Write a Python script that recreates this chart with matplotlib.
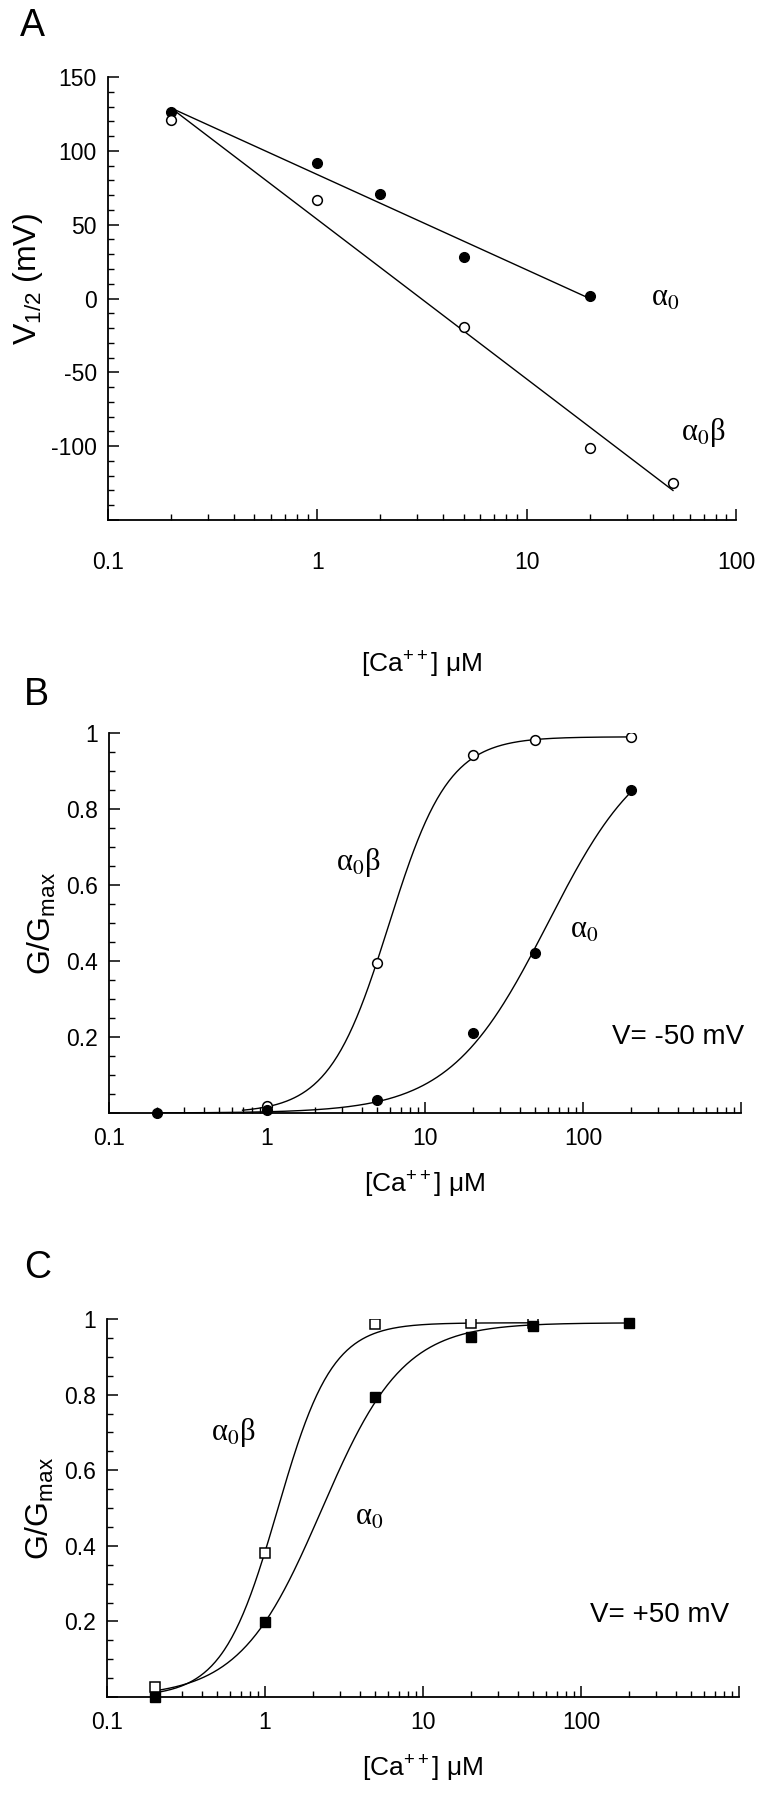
import numpy as np
import matplotlib
matplotlib.use("Agg")
import matplotlib.pyplot as plt
from matplotlib.ticker import LogLocator, MultipleLocator, NullFormatter

plt.rcParams['font.family'] = ['Liberation Sans', 'DejaVu Sans']
plt.rcParams['mathtext.fontset'] = 'custom'
plt.rcParams['mathtext.rm'] = 'Liberation Sans'
plt.rcParams['mathtext.it'] = 'Liberation Sans:italic'
plt.rcParams['mathtext.bf'] = 'Liberation Sans:bold'

# Panel A: V1/2 vs [Ca]
caA_alpha0 = [0.2, 1, 2, 5, 20]
vhalf_alpha0 = [126, 92, 71, 28, 2]
caA_alpha0beta = [0.2, 1, 5, 20, 50]
vhalf_alpha0beta = [121, 67, -19, -101, -125]
# fitted lines (end points)
fitA_alpha0_x = [0.2, 20]
fitA_alpha0_y = [129, 0]
fitA_alpha0beta_x = [0.2, 50]
fitA_alpha0beta_y = [129, -130]

# Panel B: G/Gmax at V = -50 mV
caB_alpha0beta = [1, 5, 20, 50, 200]
gB_alpha0beta = [0.018, 0.395, 0.942, 0.982, 0.989]
caB_alpha0 = [0.2, 1, 5, 20, 50, 200]
gB_alpha0 = [0.0, 0.008, 0.034, 0.21, 0.42, 0.85]
# Hill fits: (Gmax, K, n)
hillB_alpha0beta = (0.99, 5.9, 2.3)
hillB_alpha0 = (1.0, 60.0, 1.4)

# Panel C: G/Gmax at V = +50 mV
caC_alpha0beta = [0.2, 1, 5, 20, 50]
gC_alpha0beta = [0.026, 0.381, 0.987, 0.99, 0.99]
caC_alpha0 = [0.2, 1, 5, 20, 50, 200]
gC_alpha0 = [0.0, 0.198, 0.794, 0.952, 0.981, 0.989]
hillC_alpha0beta = (0.99, 1.2, 2.5)
hillC_alpha0 = (0.99, 2.28, 1.68)

xtick_labels = {0.1: "0.1", 1: "1", 10: "10", 100: "100"}


def hill(x, p):
    gmax, k, n = p
    return gmax / (1 + (k / x) ** n)


W, H = 759, 1800
fig = plt.figure(figsize=(W / 100, H / 100), dpi=100)


def make_axes(left, right, top, bottom):
    return fig.add_axes([left / W, 1 - bottom / H, (right - left) / W, (bottom - top) / H])


def style(ax, xmax, xpad, xlabelpad):
    ax.set_xscale('log')
    ax.set_xlim(0.1, xmax)
    ax.spines[['top', 'right']].set_visible(False)
    for s in ['left', 'bottom']:
        ax.spines[s].set_linewidth(1.3)
    ax.xaxis.set_major_locator(LogLocator(base=10, numticks=10))
    ax.xaxis.set_minor_locator(LogLocator(base=10, subs=np.arange(2, 10), numticks=20))
    ax.xaxis.set_minor_formatter(NullFormatter())
    ax.xaxis.set_major_formatter(plt.FuncFormatter(
        lambda v, p: next((t for k, t in xtick_labels.items() if abs(v / k - 1) < 1e-6), "")))
    ax.tick_params(which='major', direction='in', length=8, width=1.1, labelsize=16.5)
    ax.tick_params(which='minor', direction='in', length=4, width=1.0)
    ax.tick_params(axis='x', which='major', pad=xpad)
    ax.tick_params(axis='y', which='major', pad=8)
    ax.set_xlabel("[Ca$^{++}$] μM", fontsize=19, labelpad=xlabelpad)


def greek(ax, x, y, s):
    ax.text(x, y, s, fontsize=22, ha='center', va='center',
            family=['Liberation Serif', 'DejaVu Serif'], math_fontfamily='stix')


lw = 1.0
ms = 7

# ---- A ----
axA = make_axes(108, 736, 77, 520)
style(axA, 100, 22, 55)
axA.set_ylim(-150, 150)
axA.yaxis.set_major_locator(MultipleLocator(50))
axA.yaxis.set_minor_locator(MultipleLocator(10))
axA.yaxis.set_major_formatter(plt.FuncFormatter(lambda v, p: f"{v:g}" if v > -150 else ""))
axA.plot(fitA_alpha0_x, fitA_alpha0_y, color='black', lw=lw)
axA.plot(fitA_alpha0beta_x, fitA_alpha0beta_y, color='black', lw=lw)
axA.plot(caA_alpha0, vhalf_alpha0, 'o', color='black', ms=ms, zorder=3)
axA.plot(caA_alpha0beta, vhalf_alpha0beta, 'o', mfc='white', mec='black', mew=1.1, ms=ms, zorder=3)
axA.set_ylabel("V$_{1/2}$ (mV)", fontsize=23, labelpad=4)
axA.yaxis.label.set_y(0.545)
greek(axA, 46, 0, "α$_0$")
greek(axA, 70, -91, "α$_0$β")
fig.text(20 / W, 1 - 26 / H, "A", fontsize=27, ha='left', va='center')

# ---- B ----
axB = make_axes(109, 741, 733, 1113)
style(axB, 1000, 10, 14)
axB.set_ylim(0, 1)
axB.yaxis.set_major_locator(MultipleLocator(0.2))
axB.yaxis.set_minor_locator(MultipleLocator(0.05))
axB.yaxis.set_major_formatter(plt.FuncFormatter(lambda v, p: f"{v:g}" if v > 0 else ""))
xs = np.logspace(np.log10(0.7), np.log10(200), 300)
axB.plot(xs, hill(xs, hillB_alpha0beta), color='black', lw=lw)
xs = np.logspace(np.log10(0.2), np.log10(200), 300)
axB.plot(xs, hill(xs, hillB_alpha0), color='black', lw=lw)
axB.plot(caB_alpha0beta, gB_alpha0beta, 'o', mfc='white', mec='black', mew=1.1, ms=ms, zorder=3)
axB.plot(caB_alpha0, gB_alpha0, 'o', color='black', ms=ms, zorder=3, clip_on=False)
axB.set_ylabel("G/G$_{\\rm max}$", fontsize=23, labelpad=6)
greek(axB, 3.8, 0.66, "α$_0$β")
greek(axB, 102, 0.48, "α$_0$")
axB.text(400, 0.2, "V= -50 mV", fontsize=20, ha='center', va='center')
fig.text(24 / W, 1 - 695 / H, "B", fontsize=27, ha='left', va='center')

# ---- C ----
axC = make_axes(107, 739, 1319, 1697)
style(axC, 1000, 10, 14)
axC.set_ylim(0, 1)
axC.yaxis.set_major_locator(MultipleLocator(0.2))
axC.yaxis.set_minor_locator(MultipleLocator(0.05))
axC.yaxis.set_major_formatter(plt.FuncFormatter(lambda v, p: f"{v:g}" if v > 0 else ""))
xs = np.logspace(np.log10(0.2), np.log10(50), 300)
axC.plot(xs, hill(xs, hillC_alpha0beta), color='black', lw=lw)
xs = np.logspace(np.log10(0.2), np.log10(200), 300)
axC.plot(xs, hill(xs, hillC_alpha0), color='black', lw=lw)
axC.plot(caC_alpha0beta, gC_alpha0beta, 's', mfc='white', mec='black', mew=1.1, ms=ms, zorder=3)
axC.plot(caC_alpha0, gC_alpha0, 's', color='black', ms=ms, zorder=3, clip_on=False)
axC.set_ylabel("G/G$_{\\rm max}$", fontsize=23, labelpad=6)
greek(axC, 0.63, 0.70, "α$_0$β")
greek(axC, 4.55, 0.476, "α$_0$")
axC.text(316, 0.217, "V= +50 mV", fontsize=20, ha='center', va='center')
fig.text(24 / W, 1 - 1268 / H, "C", fontsize=27, ha='left', va='center')

fig.savefig("out.png", dpi=100)
